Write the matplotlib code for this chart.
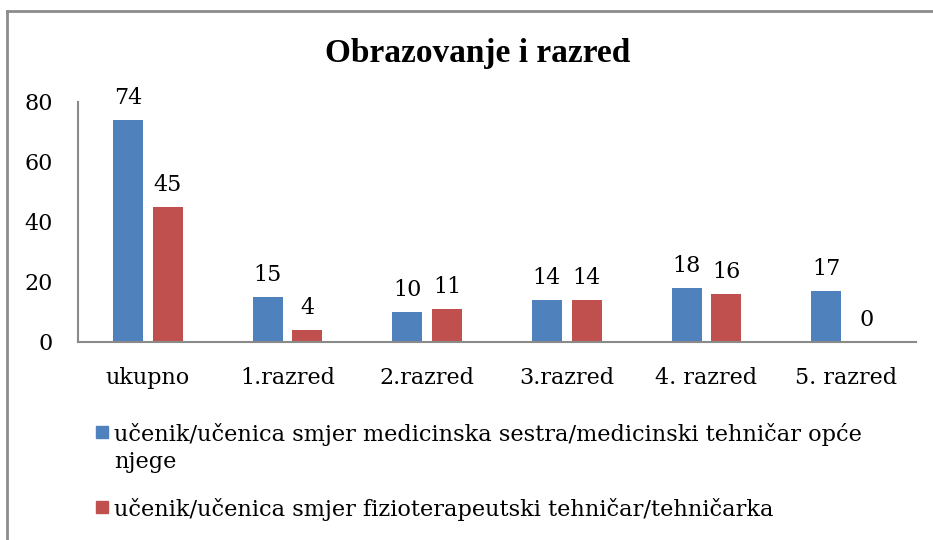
import numpy as np
import matplotlib.pyplot as plt
from matplotlib.patches import Rectangle
from matplotlib.lines import Line2D

categories = ["ukupno", "1.razred", "2.razred", "3.razred", "4. razred", "5. razred"]
medicinska = [74, 15, 10, 14, 18, 17]
fizioterapija = [45, 4, 11, 14, 16, 0]
labels = ["učenik/učenica smjer medicinska sestra/medicinski tehničar opće\nnjege",
          "učenik/učenica smjer fizioterapeutski tehničar/tehničarka"]
blue, red = "#4F81BD", "#C0504D"

W, H = 933, 540
fig = plt.figure(figsize=(W / 100, H / 100), dpi=100)
ax = fig.add_axes([78 / W, 1 - 342 / H, 838 / W, 240 / H])

x = np.arange(len(categories))
w = 0.215
off = 0.143
b1 = ax.bar(x - off, medicinska, w, color=blue)
b2 = ax.bar(x + off, fizioterapija, w, color=red)

for bars, vals in ((b1, medicinska), (b2, fizioterapija)):
    for r, v in zip(bars, vals):
        ax.annotate(str(v), (r.get_x() + r.get_width() / 2, v), xytext=(0, 11.5),
                    textcoords="offset points", ha="center", va="baseline",
                    fontsize=16, family="DejaVu Serif")

ax.set_xlim(-0.5, len(categories) - 0.5)
ax.set_ylim(0, 80)
ax.set_yticks([0, 20, 40, 60, 80])
ax.set_xticks(x)
ax.set_xticklabels(categories)
ax.tick_params(length=0, labelsize=16, pad=18)
for t in ax.get_xticklabels() + ax.get_yticklabels():
    t.set_family("DejaVu Serif")
for s in ("top", "right"):
    ax.spines[s].set_visible(False)
for s in ("left", "bottom"):
    ax.spines[s].set_color("#8a8a8a")
    ax.spines[s].set_linewidth(1.5)

fig.text(477.5 / W, 1 - 62 / H, "Obrazovanje i razred", ha="center", va="baseline",
         fontsize=24, fontweight="bold", family="Liberation Serif")

# legend, laid out like the Excel one (square aligned with first line)
leg_rows = [(blue, labels[0], 439), (red, labels[1], 514)]
for col, lab, base in leg_rows:
    fig.add_artist(Rectangle((96 / W, 1 - (base - 1) / H), 12 / W, 12 / H,
                             transform=fig.transFigure, color=col))
    fig.text(114 / W, 1 - (base - 16) / H, lab, ha="left", va="top",
             fontsize=16.2, family="DejaVu Serif", linespacing=1.32)

# chart frame (only top and left edges fall inside the picture)
fig.add_artist(Line2D([7 / W, 1], [1 - 11 / H, 1 - 11 / H], transform=fig.transFigure,
                      color="#8c8c8c", linewidth=2))
fig.add_artist(Line2D([7 / W, 7 / W], [0, 1 - 11 / H], transform=fig.transFigure,
                      color="#8c8c8c", linewidth=2))

fig.savefig("out.png", dpi=100)
